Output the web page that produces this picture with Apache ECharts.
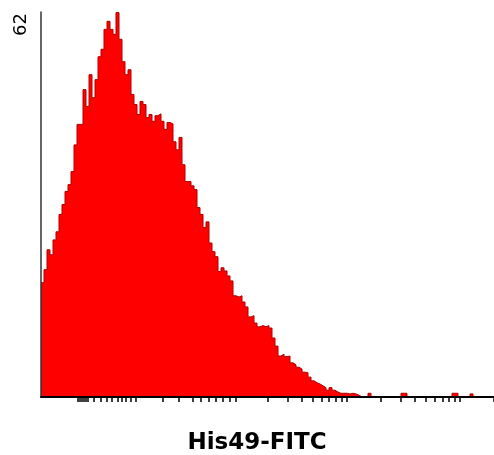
<!DOCTYPE html>
<html>
<head>
<meta charset="utf-8">
<script src="https://cdn.jsdelivr.net/npm/echarts@6/dist/echarts.min.js"></script>
<style>
  html, body { margin: 0; padding: 0; background: #fff; }
  #chart { width: 494px; height: 455px; }
</style>
</head>
<body>
<div id="chart"></div>
<script>
// histogram counts, one per bin (151 bins across the log axis)
const counts = [
  18.4, 20.5, 23.7, 22.9, 25.3, 26.6, 29.4, 31.0, 33.1, 34.2,
  36.3, 40.6, 43.9, 43.9, 49.5, 46.8, 51.9, 48.2, 51.1, 54.8,
  56.0, 59.2, 60.5, 59.2, 58.4, 61.9, 57.6, 54.0, 51.9, 52.7,
  48.7, 47.1, 45.5, 47.6, 47.1, 45.0, 45.5, 44.4, 45.3, 45.6,
  44.4, 43.1, 44.2, 44.0, 41.1, 39.8, 41.8, 37.4, 34.7, 34.7,
  34.0, 33.4, 30.5, 29.4, 27.3, 28.2, 24.8, 23.4, 22.6, 20.2,
  20.8, 20.3, 19.5, 18.7, 16.3, 16.1, 16.3, 15.3, 14.5, 12.9,
  13.1, 11.9, 11.3, 11.5, 11.3, 11.5, 11.1, 9.5, 8.2, 6.6,
  6.9, 6.5, 6.6, 5.5, 5.2, 4.8, 4.5, 4.0, 3.9, 3.2,
  2.6, 2.3, 2.1, 1.8, 1.5, 1.1, 1.5, 1.1, 0.8, 0.6,
  0.6, 0.6, 0.5, 0.6, 0.5, 0.3, 0, 0, 0, 0.6,
  0, 0, 0, 0, 0, 0, 0, 0, 0, 0,
  0.6, 0.6, 0, 0, 0, 0, 0, 0, 0, 0,
  0, 0, 0, 0, 0, 0, 0, 0.6, 0.6, 0,
  0, 0, 0, 0.5, 0, 0, 0, 0, 0, 0,
  0
]

// log scale tick marks (fluorescence intensity)
const logTicks = [
  2.1, 2.2, 2.3, 2.4, 2.5, 2.6, 2.9, 3.4, 3.8, 4.2, 4.8, 5.2, 5.6, 6.2, 6.8,
  12, 16.5, 22, 26, 30, 35, 40, 46, 52,
  100, 150, 200, 250, 300, 350, 400, 450, 500,
  1000, 1500, 2000, 2500, 3000, 3500, 4000, 4500, 5000,
  10000
]

const yMax = 62
const xTitle = 'His49-FITC'

// step data: each bin starts at its index, closing point at the right edge
const stepData = counts.map((c, i) => [i, c])
stepData.push([counts.length, 0])

const chart = echarts.init(document.getElementById('chart'))

chart.setOption({
  animation: false,
  grid: { left: 41, right: 0, top: 12, bottom: 58 },
  title: {
    text: xTitle,
    left: 252,
    textAlign: 'center',
    top: 427,
    textStyle: { fontFamily: 'DejaVu Sans', fontWeight: 'bold', fontSize: 23, color: '#000' }
  },
  // rotated y max label, reads bottom to top
  graphic: [{
    type: 'text',
    x: 21,
    y: 13,
    rotation: Math.PI / 2,
    style: {
      text: String(yMax),
      align: 'right',
      verticalAlign: 'middle',
      fontFamily: 'DejaVu Sans',
      fontSize: 18,
      fill: '#000'
    }
  }],
  xAxis: [
    {
      type: 'value',
      min: 0,
      max: counts.length,
      show: false
    },
    {
      type: 'log',
      min: 1,
      max: 10000,
      position: 'bottom',
      z: 10,
      axisLine: { show: true, lineStyle: { color: '#000', width: 2 } },
      axisTick: {
        show: true,
        customValues: logTicks,
        length: 5,
        lineStyle: { color: '#000', width: 1.5 }
      },
      axisLabel: { show: false },
      splitLine: { show: false }
    }
  ],
  yAxis: {
    type: 'value',
    min: 0,
    max: yMax,
    z: 10,
    axisLine: { show: true, lineStyle: { color: '#333', width: 1.5 } },
    axisTick: { show: false },
    splitLine: { show: false },
    axisLabel: { show: false }
  },
  series: [{
    type: 'line',
    xAxisIndex: 0,
    step: 'end',
    symbol: 'none',
    data: stepData,
    lineStyle: { color: '#b00000', width: 1 },
    areaStyle: { color: '#ff0000', opacity: 1 }
  }]
})
</script>
</body>
</html>
